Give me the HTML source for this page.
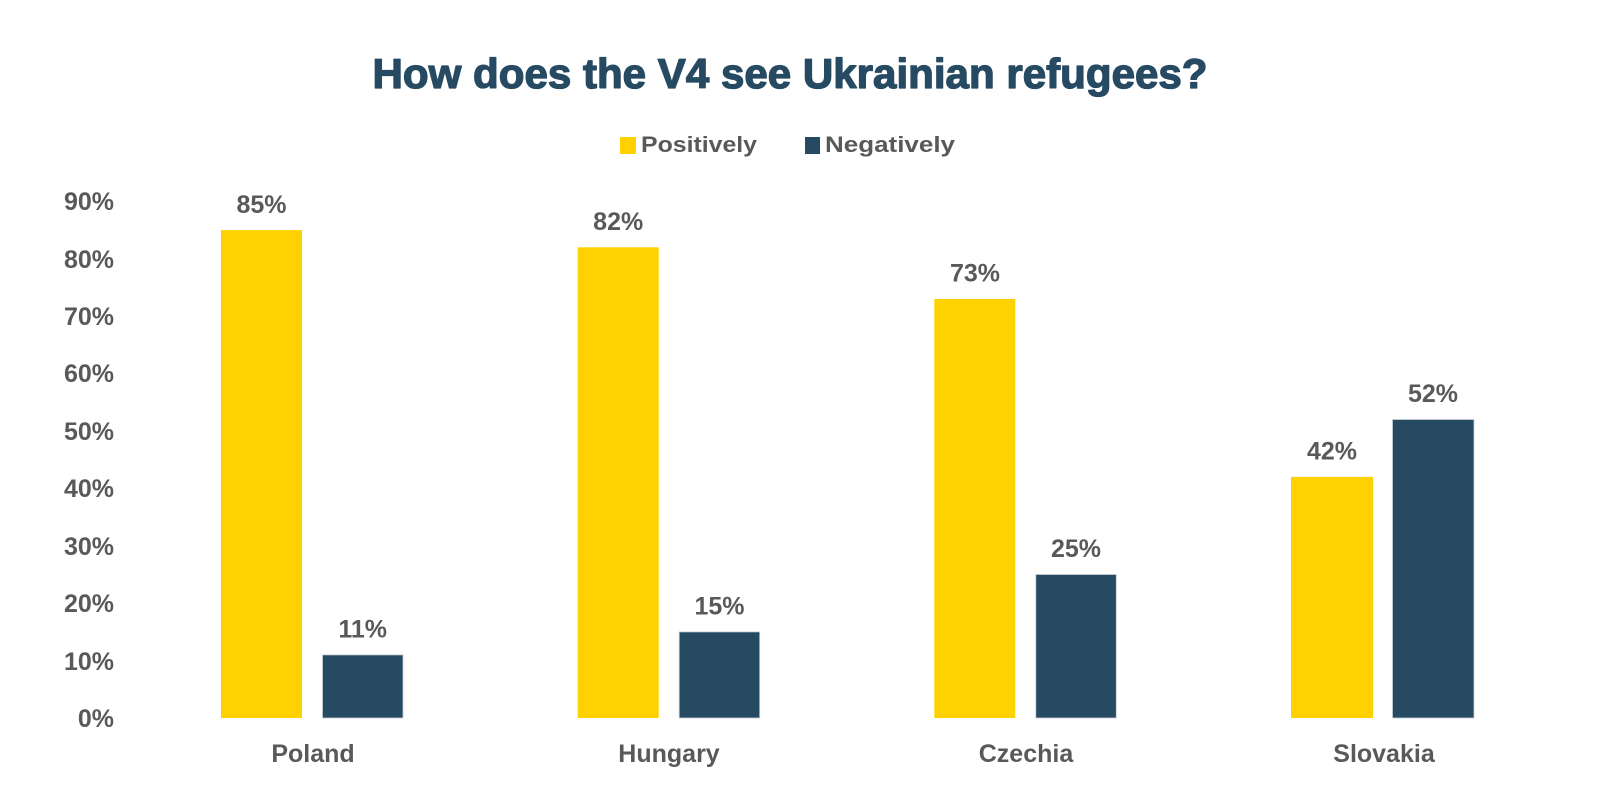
<!DOCTYPE html>
<html>
<head>
<meta charset="utf-8">
<style>
  html, body { margin: 0; padding: 0; background: #ffffff; }
  svg { display: block; }
  text { font-family: "Liberation Sans", "DejaVu Sans", sans-serif; font-weight: bold; }
</style>
</head>
<body>
<svg width="1602" height="800" viewBox="0 0 1602 800" xmlns="http://www.w3.org/2000/svg">
  <rect x="0" y="0" width="1602" height="800" fill="#ffffff"/>

  <!-- Title -->
  <text x="790" y="88" font-size="42" fill="#274A63" stroke="#274A63" stroke-width="1.3" stroke-linejoin="round" text-anchor="middle" textLength="835" lengthAdjust="spacingAndGlyphs">How does the V4 see Ukrainian refugees?</text>

  <!-- Legend -->
  <rect x="620" y="137" width="16" height="17" fill="#FED200"/>
  <text x="641" y="152" font-size="22" fill="#595959" textLength="116" lengthAdjust="spacingAndGlyphs">Positively</text>
  <rect x="805" y="137" width="15" height="17" fill="#274A63"/>
  <text x="825" y="152" font-size="22" fill="#595959" textLength="130" lengthAdjust="spacingAndGlyphs">Negatively</text>

  <!-- Y axis tick labels -->
  <g font-size="25" fill="#595959" text-anchor="end">
    <text x="114" y="727">0%</text>
    <text x="114" y="670">10%</text>
    <text x="114" y="612">20%</text>
    <text x="114" y="555">30%</text>
    <text x="114" y="497">40%</text>
    <text x="114" y="440">50%</text>
    <text x="114" y="382">60%</text>
    <text x="114" y="325">70%</text>
    <text x="114" y="268">80%</text>
    <text x="114" y="210">90%</text>
  </g>

  <!-- Bars: Positively (yellow) -->
  <g fill="#FED200">
    <rect x="221" y="230.1" width="81" height="487.9"/>
    <rect x="577.7" y="247.3" width="81" height="470.7"/>
    <rect x="934.3" y="299" width="81" height="419"/>
    <rect x="1291" y="476.9" width="82" height="241.1"/>
  </g>

  <!-- Bars: Negatively (navy) -->
  <g fill="#274A63" stroke="#c8cfd6" stroke-width="0.8">
    <rect x="322.5" y="654.9" width="80.5" height="63.1"/>
    <rect x="679.2" y="631.9" width="80.5" height="86.1"/>
    <rect x="1035.8" y="574.5" width="80.5" height="143.5"/>
    <rect x="1392.5" y="419.5" width="81.5" height="298.5"/>
  </g>

  <!-- Data labels -->
  <g font-size="25" fill="#595959" text-anchor="middle">
    <text x="261.5" y="213">85%</text>
    <text x="362.7" y="637.5">11%</text>
    <text x="618.2" y="230">82%</text>
    <text x="719.5" y="614.5">15%</text>
    <text x="975" y="281.5">73%</text>
    <text x="1076" y="557">25%</text>
    <text x="1332" y="459.5">42%</text>
    <text x="1433" y="402">52%</text>
  </g>

  <!-- Category labels -->
  <g font-size="25" fill="#595959" text-anchor="middle">
    <text x="313" y="762">Poland</text>
    <text x="669" y="762">Hungary</text>
    <text x="1026" y="762">Czechia</text>
    <text x="1384" y="762">Slovakia</text>
  </g>
</svg>
</body>
</html>
